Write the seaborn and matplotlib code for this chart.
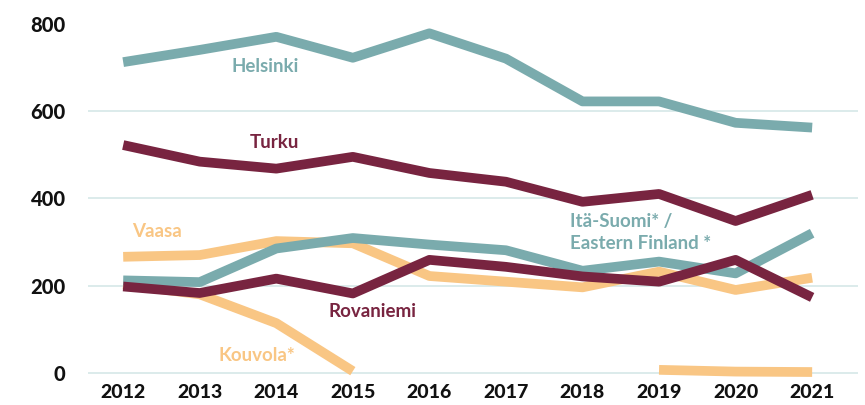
import numpy as np
import pandas as pd
import matplotlib
matplotlib.use("Agg")
import matplotlib.pyplot as plt
import seaborn as sns

years = [2012, 2013, 2014, 2015, 2016, 2017, 2018, 2019, 2020, 2021]

helsinki = [712, 740, 770, 722, 778, 720, 622, 622, 573, 562]
turku = [522, 484, 468, 495, 458, 438, 392, 410, 348, 408]
vaasa = [266, 270, 302, 297, 222, 209, 196, 232, 190, 218]
ita_suomi = [212, 208, 285, 309, 294, 281, 234, 255, 228, 320]
rovaniemi = [198, 183, 216, 182, 259, 243, 221, 209, 259, 173]
kouvola = [203, 180, 114, 4, np.nan, np.nan, np.nan, 7, 3, 2]

teal = "#7aabad"
maroon = "#782440"
orange = "#f9c684"

# draw order: orange under teal under maroon
series = [
    ("Vaasa", vaasa, orange),
    ("Kouvola*", kouvola, orange),
    ("Helsinki", helsinki, teal),
    ("Itä-Suomi", ita_suomi, teal),
    ("Turku", turku, maroon),
    ("Rovaniemi", rovaniemi, maroon),
]

sns.set_style("white")
plt.rcParams["font.family"] = ["Lato", "DejaVu Sans"]

fig = plt.figure(figsize=(8.65, 4.05), dpi=100)
ax = fig.add_axes([0.1017, 0.062, 0.8903, 0.901])

for name, vals, col in series:
    df = pd.DataFrame({"year": years, "value": vals})
    # split at gaps so missing years are not bridged
    df["seg"] = df["value"].isna().cumsum()
    df = df.dropna()
    for _, part in df.groupby("seg"):
        sns.lineplot(data=part, x="year", y="value", color=col, linewidth=7,
                     solid_capstyle="butt", solid_joinstyle="round",
                     estimator=None, ax=ax)

ax.set_xlim(2011.54, 2021.6)
ax.set_ylim(-16, 820)
ax.set_yticks([0, 200, 400, 600, 800])
ax.set_xticks(years)
ax.set_xlabel("")
ax.set_ylabel("")
for y in [0, 200, 400, 600]:
    ax.axhline(y, color="#d6e7e7", linewidth=1.2, zorder=0)
sns.despine(ax=ax, left=True, bottom=True)
ax.tick_params(axis="y", length=0, pad=16, labelsize=14.5)
ax.tick_params(axis="x", length=0, pad=3, labelsize=14)
for lab in ax.get_xticklabels() + ax.get_yticklabels():
    lab.set_fontweight("black")
    lab.set_color("#111111")

lbl = dict(fontsize=13.5, fontweight="bold")
ax.text(2013.42, 702, "Helsinki", color=teal, ha="left", va="center", **lbl)
ax.text(2013.65, 527, "Turku", color=maroon, ha="left", va="center", **lbl)
ax.text(2012.12, 323, "Vaasa", color=orange, ha="left", va="center", **lbl)
ax.text(2017.84, 346, "Itä-Suomi* /", color=teal, ha="left", va="center", **lbl)
ax.text(2017.84, 296, "Eastern Finland *", color=teal, ha="left", va="center", **lbl)
ax.text(2014.68, 140, "Rovaniemi", color=maroon, ha="left", va="center", **lbl)
ax.text(2013.24, 39, "Kouvola*", color=orange, ha="left", va="center", **lbl)

fig.savefig("out.png", dpi=100)
